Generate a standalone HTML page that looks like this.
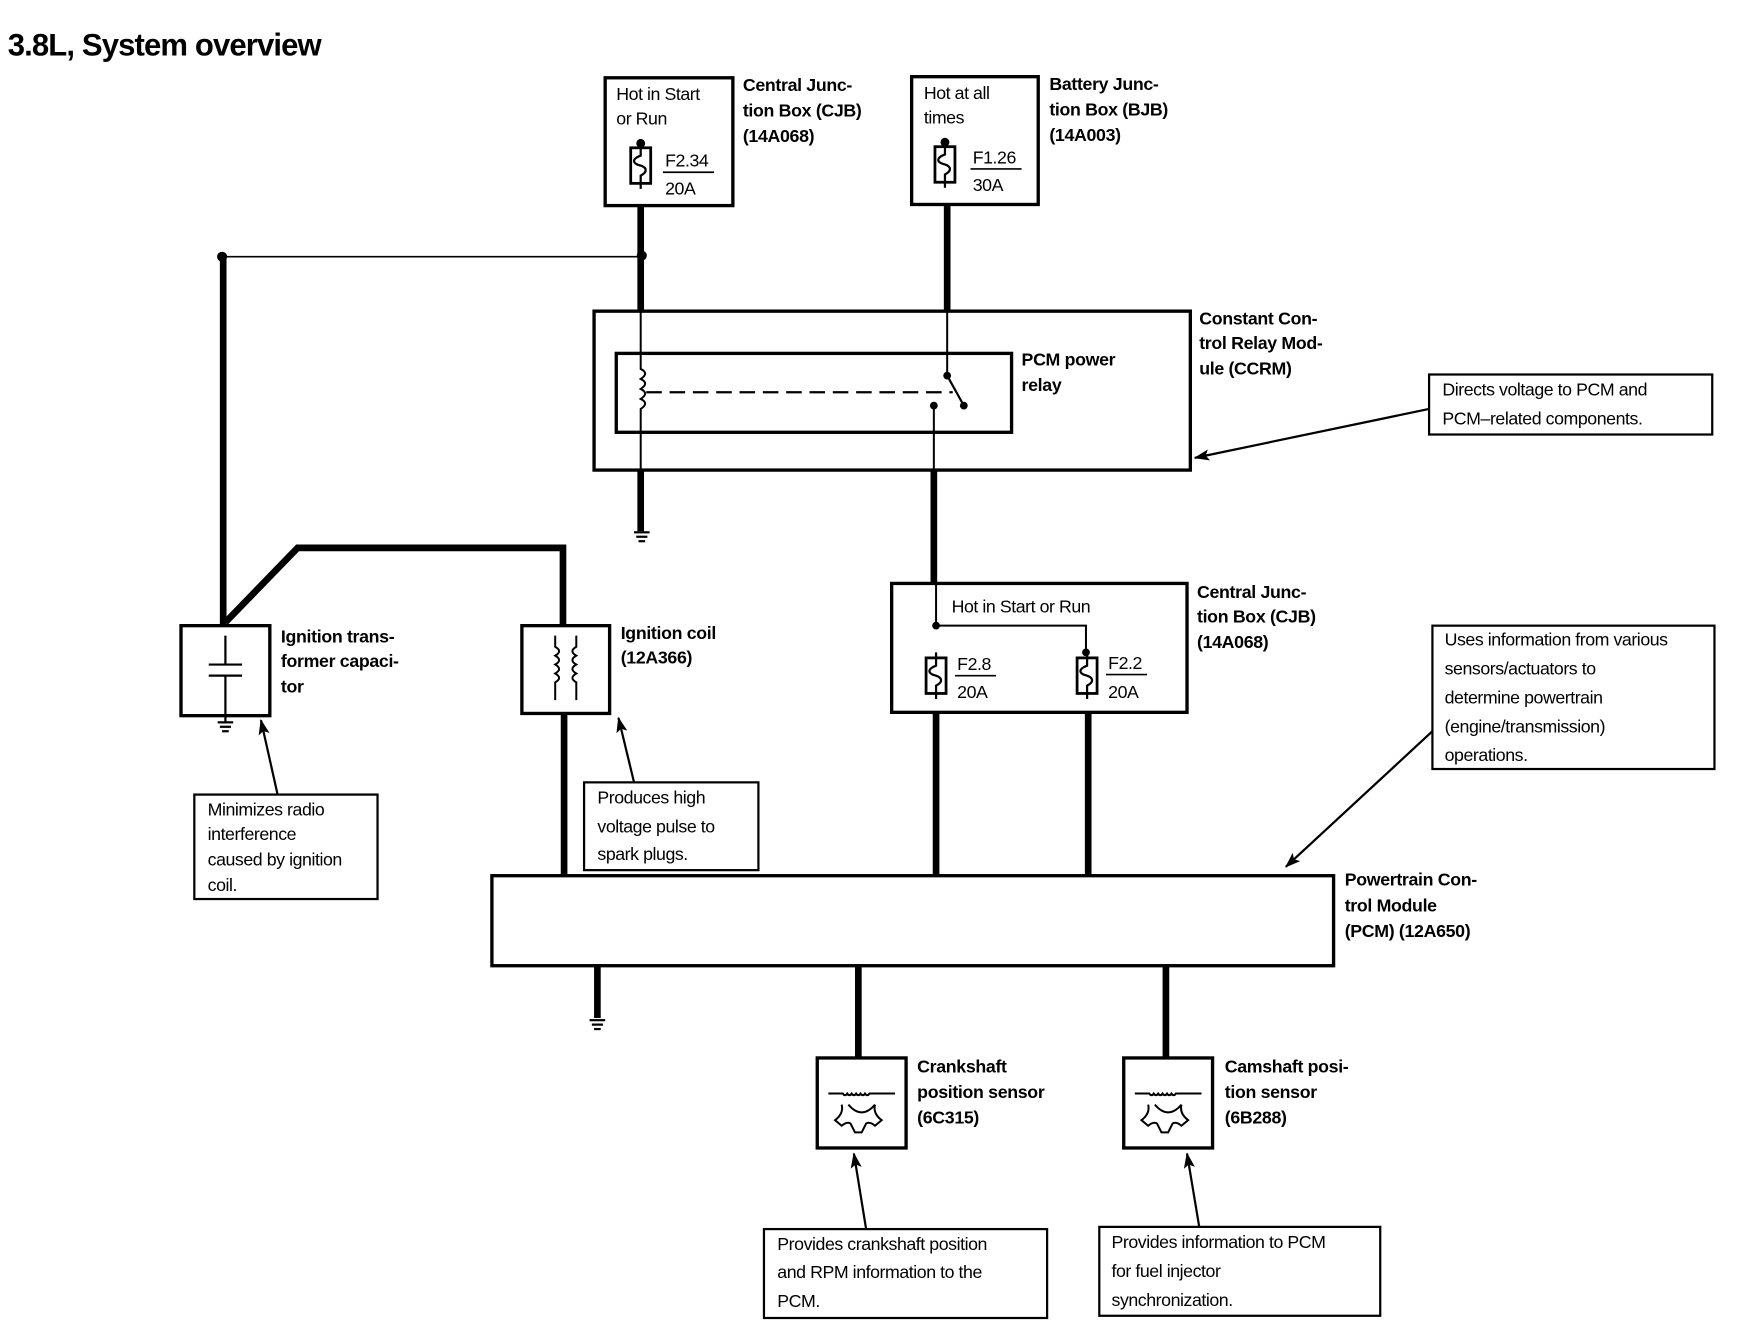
<!DOCTYPE html>
<html><head><meta charset="utf-8"><style>
html,body{margin:0;padding:0;background:#fff;}
svg{display:block;}
text{font-family:"Liberation Sans",Arial,sans-serif;fill:#000;}
.b{font-weight:bold;font-size:16px;letter-spacing:-0.3px;}
.n{font-size:16px;letter-spacing:-0.4px;}
</style></head><body>
<svg width="1740" height="1328" viewBox="0 0 1567 1195" preserveAspectRatio="none" xmlns="http://www.w3.org/2000/svg">
<defs>
<marker id="ah" markerWidth="14" markerHeight="12" refX="13" refY="6" orient="auto" markerUnits="userSpaceOnUse">
<path d="M0,1 L14,6 L0,11 L3,6 Z" fill="#000"/></marker>
<g id="gnd"><line x1="-7" y1="0" x2="7" y2="0" stroke="#000" stroke-width="2"/><line x1="-5" y1="4" x2="5" y2="4" stroke="#000" stroke-width="2"/><line x1="-3" y1="8" x2="3" y2="8" stroke="#000" stroke-width="2"/></g>
<g id="fuse"><rect x="-9" y="0" width="18" height="32" fill="#fff" stroke="#000" stroke-width="2.5"/><path d="M0,-5 L0,7 C-8,10 -8,14 0,16 C6,18 6,22 0,25 L0,37" fill="none" stroke="#000" stroke-width="2"/></g>
<g id="sens"><path d="M-30,-10 L-17,-10 q2,3 4,0 q2,3 4,0 q2,3 4,0 q2,3 4,0 q2,3 4,0 q2,3 4,0 L30,-10" fill="none" stroke="#000" stroke-width="1.8"/>
<path d="M-18,0 q2,8 -6,14 l6,5 q5,-4 8,-2 l4,8 l6,0 l4,-8 q3,-2 8,2 l6,-5 q-8,-6 -6,-14 M-12,0 q12,14 24,0" fill="none" stroke="#000" stroke-width="1.8"/></g>
</defs>
<rect width="1567" height="1195" fill="#fff"/>
<text x="7" y="50" style="font-weight:bold;font-size:28px;letter-spacing:-0.8px">3.8L, System overview</text>

<!-- top CJB -->
<rect x="545" y="70" width="115" height="115" fill="none" stroke="#000" stroke-width="3"/>
<text class="n" x="555" y="90">Hot in Start</text><text class="n" x="555" y="112">or Run</text>
<circle cx="577" cy="129" r="4"/>
<use href="#fuse" x="577" y="133"/>
<text class="n" x="599" y="150">F2.34</text><line x1="597" y1="155" x2="643" y2="155" stroke="#000" stroke-width="1.5"/><text class="n" x="599" y="175">20A</text>
<text class="b" x="669" y="82">Central Junc-</text><text class="b" x="669" y="105">tion Box (CJB)</text><text class="b" x="669" y="128">(14A068)</text>
<line x1="577" y1="185" x2="577" y2="280" stroke="#000" stroke-width="6"/>
<line x1="200" y1="231" x2="578" y2="231" stroke="#000" stroke-width="1.5"/>
<circle cx="578" cy="230" r="4.5"/><circle cx="200" cy="231" r="4.5"/>
<line x1="201" y1="231" x2="201" y2="562" stroke="#000" stroke-width="6"/>

<!-- BJB -->
<rect x="821" y="69" width="114" height="115" fill="none" stroke="#000" stroke-width="3"/>
<text class="n" x="832" y="89">Hot at all</text><text class="n" x="832" y="111">times</text>
<circle cx="851" cy="128" r="4"/>
<use href="#fuse" x="851" y="132"/>
<text class="n" x="876" y="147">F1.26</text><line x1="874" y1="152" x2="920" y2="152" stroke="#000" stroke-width="1.5"/><text class="n" x="876" y="172">30A</text>
<text class="b" x="945" y="81">Battery Junc-</text><text class="b" x="945" y="104">tion Box (BJB)</text><text class="b" x="945" y="127">(14A003)</text>
<line x1="853" y1="184" x2="853" y2="280" stroke="#000" stroke-width="6"/>

<!-- CCRM -->
<rect x="535" y="280" width="537" height="143" fill="none" stroke="#000" stroke-width="3"/>
<rect x="555" y="318" width="356" height="71" fill="none" stroke="#000" stroke-width="3"/>
<path d="M577,280 L577,332 q8,4 0,9 q8,4 0,9 q8,4 0,9 q8,4 0,9 L577,423" fill="none" stroke="#000" stroke-width="1.8"/>
<line x1="582" y1="353" x2="858" y2="353" stroke="#000" stroke-width="2" stroke-dasharray="14,7"/>
<line x1="853" y1="280" x2="853" y2="337" stroke="#000" stroke-width="1.8"/>
<circle cx="853" cy="338" r="3.5"/><line x1="853" y1="338" x2="868" y2="365" stroke="#000" stroke-width="2"/><circle cx="868" cy="365" r="3.5"/>
<circle cx="841" cy="365" r="3.5"/><line x1="841" y1="365" x2="841" y2="423" stroke="#000" stroke-width="1.8"/>
<text class="b" x="920" y="329">PCM power</text><text class="b" x="920" y="352">relay</text>
<text class="b" x="1080" y="292">Constant Con-</text><text class="b" x="1080" y="314">trol Relay Mod-</text><text class="b" x="1080" y="337">ule (CCRM)</text>
<line x1="577" y1="423" x2="577" y2="478" stroke="#000" stroke-width="6"/>
<use href="#gnd" x="578" y="479"/>
<line x1="841" y1="423" x2="841" y2="525" stroke="#000" stroke-width="6"/>

<rect x="1287" y="337" width="255" height="54" fill="none" stroke="#000" stroke-width="2"/>
<text class="n" x="1299" y="356">Directs voltage to PCM and</text><text class="n" x="1299" y="382">PCM–related components.</text>
<line x1="1287" y1="368" x2="1076" y2="412" stroke="#000" stroke-width="2" marker-end="url(#ah)"/>

<!-- capacitor -->
<path d="M203,560 L268,493 L507,493 L507,563" fill="none" stroke="#000" stroke-width="6"/>
<rect x="163" y="563" width="80" height="81" fill="none" stroke="#000" stroke-width="3"/>
<line x1="203" y1="572" x2="203" y2="598" stroke="#000" stroke-width="2"/><line x1="188" y1="598" x2="218" y2="598" stroke="#000" stroke-width="2"/>
<line x1="188" y1="608" x2="218" y2="608" stroke="#000" stroke-width="2"/><line x1="203" y1="608" x2="203" y2="650" stroke="#000" stroke-width="2"/>
<use href="#gnd" x="203" y="650"/>
<text class="b" x="253" y="578">Ignition trans-</text><text class="b" x="253" y="600">former capaci-</text><text class="b" x="253" y="623">tor</text>
<rect x="175" y="715" width="165" height="94" fill="none" stroke="#000" stroke-width="2"/>
<text class="n" x="187" y="734">Minimizes radio</text><text class="n" x="187" y="756">interference</text><text class="n" x="187" y="779">caused by ignition</text><text class="n" x="187" y="802">coil.</text>
<line x1="250" y1="715" x2="235" y2="648" stroke="#000" stroke-width="2" marker-end="url(#ah)"/>

<!-- coil -->
<rect x="470" y="563" width="79" height="79" fill="none" stroke="#000" stroke-width="3"/>
<path d="M500,572 L500,582 q7,4 0,8 q7,4 0,8 q7,4 0,8 q7,4 0,8 L500,630" fill="none" stroke="#000" stroke-width="1.8"/>
<path d="M519,572 L519,582 q-7,4 0,8 q-7,4 0,8 q-7,4 0,8 q-7,4 0,8 L519,630" fill="none" stroke="#000" stroke-width="1.8"/>
<line x1="508" y1="642" x2="508" y2="788" stroke="#000" stroke-width="6"/>
<text class="b" x="559" y="575">Ignition coil</text><text class="b" x="559" y="597">(12A366)</text>
<rect x="526" y="704" width="157" height="79" fill="none" stroke="#000" stroke-width="2"/>
<text class="n" x="538" y="723">Produces high</text><text class="n" x="538" y="749">voltage pulse to</text><text class="n" x="538" y="774">spark plugs.</text>
<line x1="571" y1="704" x2="557" y2="646" stroke="#000" stroke-width="2" marker-end="url(#ah)"/>

<!-- CJB 2 -->
<rect x="803" y="525" width="266" height="116" fill="none" stroke="#000" stroke-width="3"/>
<text class="n" x="857" y="551">Hot in Start or Run</text>
<path d="M843,525 L843,563 L978,563 L978,588" fill="none" stroke="#000" stroke-width="1.8"/>
<circle cx="843" cy="563" r="3.5"/><circle cx="978" cy="587" r="3.5"/>
<use href="#fuse" x="843" y="592"/><use href="#fuse" x="979" y="592"/>
<text class="n" x="862" y="603">F2.8</text><line x1="860" y1="608" x2="897" y2="608" stroke="#000" stroke-width="1.5"/><text class="n" x="862" y="628">20A</text>
<text class="n" x="998" y="602">F2.2</text><line x1="996" y1="607" x2="1033" y2="607" stroke="#000" stroke-width="1.5"/><text class="n" x="998" y="628">20A</text>
<text class="b" x="1078" y="538">Central Junc-</text><text class="b" x="1078" y="560">tion Box (CJB)</text><text class="b" x="1078" y="583">(14A068)</text>
<line x1="843" y1="641" x2="843" y2="788" stroke="#000" stroke-width="6"/>
<line x1="980" y1="641" x2="980" y2="788" stroke="#000" stroke-width="6"/>

<rect x="1290" y="563" width="254" height="129" fill="none" stroke="#000" stroke-width="2"/>
<text class="n" x="1301" y="581">Uses information from various</text><text class="n" x="1301" y="607">sensors/actuators to</text><text class="n" x="1301" y="633">determine powertrain</text><text class="n" x="1301" y="659">(engine/transmission)</text><text class="n" x="1301" y="685">operations.</text>
<line x1="1290" y1="658" x2="1158" y2="780" stroke="#000" stroke-width="2" marker-end="url(#ah)"/>

<!-- PCM -->
<rect x="443" y="788" width="758" height="81" fill="none" stroke="#000" stroke-width="3"/>
<text class="b" x="1211" y="797">Powertrain Con-</text><text class="b" x="1211" y="820">trol Module</text><text class="b" x="1211" y="843">(PCM) (12A650)</text>
<line x1="538" y1="869" x2="538" y2="916" stroke="#000" stroke-width="6"/>
<use href="#gnd" x="538" y="918"/>

<!-- crank -->
<line x1="773" y1="869" x2="773" y2="952" stroke="#000" stroke-width="6"/>
<rect x="736" y="952" width="80" height="81" fill="none" stroke="#000" stroke-width="3"/>
<use href="#sens" x="776" y="994"/>
<text class="b" x="826" y="965">Crankshaft</text><text class="b" x="826" y="988">position sensor</text><text class="b" x="826" y="1011">(6C315)</text>
<rect x="688" y="1106" width="255" height="80" fill="none" stroke="#000" stroke-width="2"/>
<text class="n" x="700" y="1125">Provides crankshaft position</text><text class="n" x="700" y="1150">and RPM information to the</text><text class="n" x="700" y="1176">PCM.</text>
<line x1="780" y1="1106" x2="769" y2="1038" stroke="#000" stroke-width="2" marker-end="url(#ah)"/>

<!-- cam -->
<line x1="1050" y1="869" x2="1050" y2="952" stroke="#000" stroke-width="6"/>
<rect x="1012" y="952" width="80" height="81" fill="none" stroke="#000" stroke-width="3"/>
<use href="#sens" x="1052" y="994"/>
<text class="b" x="1103" y="965">Camshaft posi-</text><text class="b" x="1103" y="988">tion sensor</text><text class="b" x="1103" y="1011">(6B288)</text>
<rect x="990" y="1104" width="253" height="80" fill="none" stroke="#000" stroke-width="2"/>
<text class="n" x="1001" y="1123">Provides information to PCM</text><text class="n" x="1001" y="1149">for fuel injector</text><text class="n" x="1001" y="1175">synchronization.</text>
<line x1="1080" y1="1104" x2="1069" y2="1038" stroke="#000" stroke-width="2" marker-end="url(#ah)"/>
</svg>
</body></html>
